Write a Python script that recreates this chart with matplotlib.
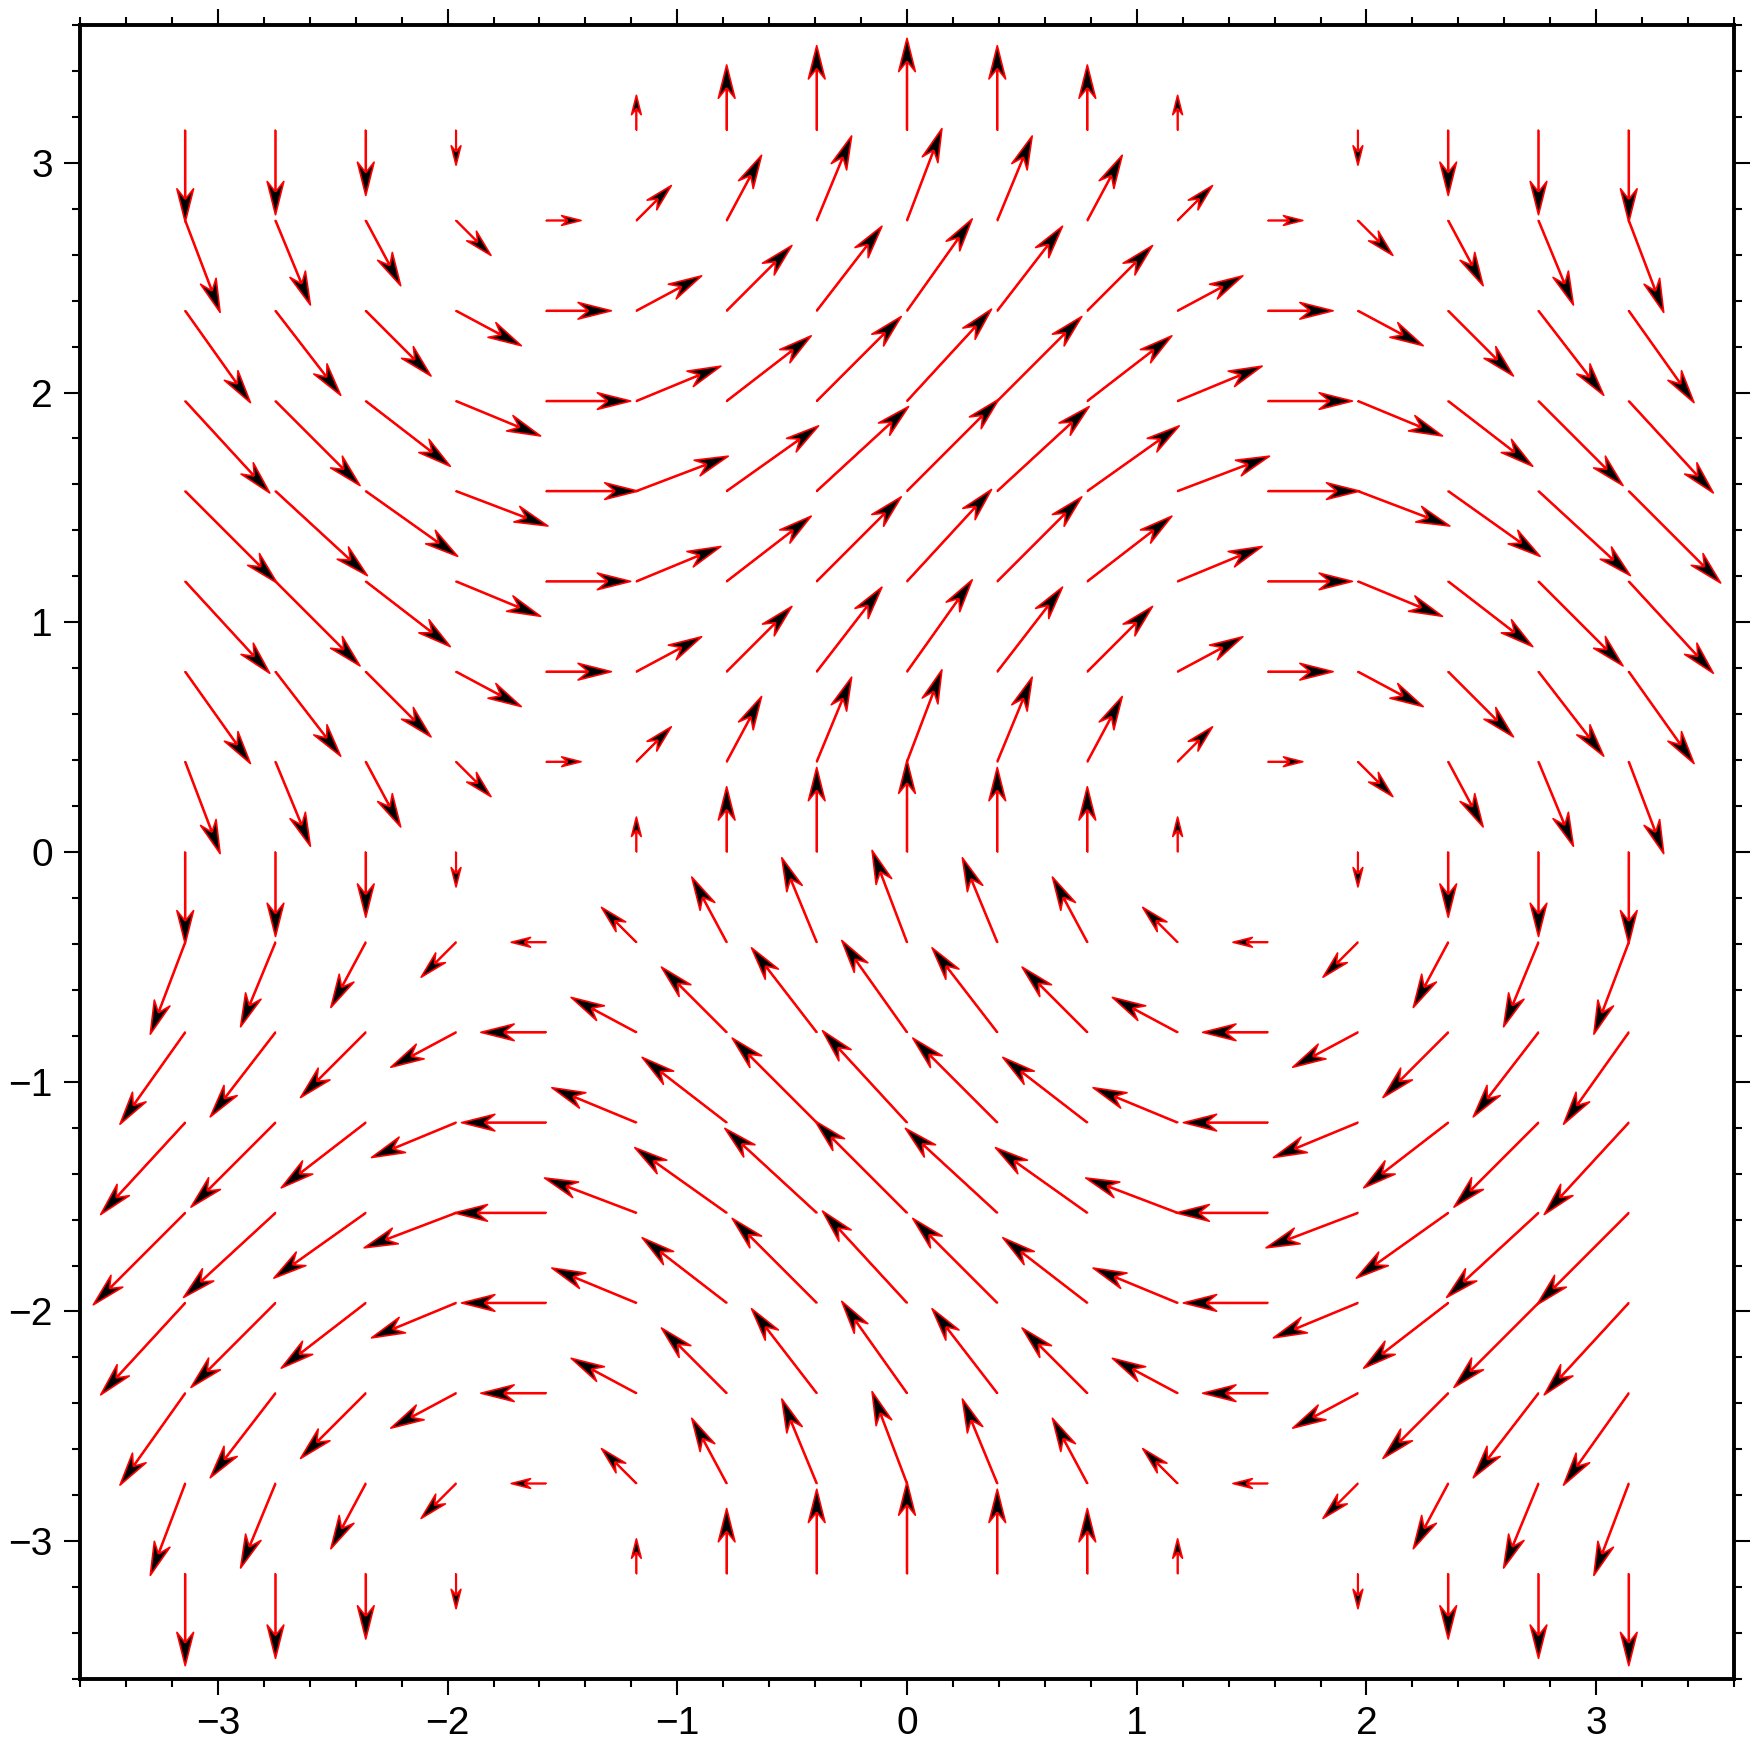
import numpy as np
import matplotlib.pyplot as plt
from matplotlib.ticker import MultipleLocator

plt.rcParams['font.family'] = ['Liberation Sans', 'DejaVu Sans']

# grid nodes (multiples of pi/8) along x and y
grid_x = [-3.142, -2.749, -2.356, -1.963, -1.571, -1.178, -0.785, -0.393, 0.0,
          0.393, 0.785, 1.178, 1.571, 1.963, 2.356, 2.749, 3.142]
grid_y = [-3.142, -2.749, -2.356, -1.963, -1.571, -1.178, -0.785, -0.393, 0.0,
          0.393, 0.785, 1.178, 1.571, 1.963, 2.356, 2.749, 3.142]

# x-component depends on the row (y), y-component on the column (x)
u_by_row = [0, -0.38, -0.71, -0.92, -1, -0.92, -0.71, -0.38, 0,
            0.38, 0.71, 0.92, 1, 0.92, 0.71, 0.38, 0]
v_by_col = [-1, -0.92, -0.71, -0.38, 0, 0.38, 0.71, 0.92, 1,
            0.92, 0.71, 0.38, 0, -0.38, -0.71, -0.92, -1]

X, Y = np.meshgrid(grid_x, grid_y)
U = np.tile(np.array(u_by_row)[:, None], (1, len(grid_x)))
V = np.tile(np.array(v_by_col)[None, :], (len(grid_y), 1))

# drop the null vectors
keep = np.hypot(U, V) > 0
X, Y, U, V = X[keep], Y[keep], U[keep], V[keep]

fig = plt.figure(figsize=(17.6, 17.46), dpi=100)
ax = fig.add_axes([80 / 1760, 67 / 1746, 1654 / 1760, 1654 / 1746])

ax.quiver(X, Y, U, V, angles='xy', scale_units='xy', scale=1 / 0.4,
          units='dots', width=0.9, headwidth=18.5, headlength=37,
          headaxislength=26, minshaft=1.8, minlength=0,
          facecolor='black', edgecolor='red', linewidth=1.2, zorder=3)

ax.set_xlim(-3.6, 3.6)
ax.set_ylim(-3.6, 3.6)

ax.xaxis.set_major_locator(MultipleLocator(1))
ax.xaxis.set_minor_locator(MultipleLocator(0.2))
ax.yaxis.set_major_locator(MultipleLocator(1))
ax.yaxis.set_minor_locator(MultipleLocator(0.2))

ax.tick_params(which='both', direction='out', top=True, right=True,
               labeltop=False, labelright=False, color='black')
ax.tick_params(which='major', length=11.5, width=1.5, labelsize=28, pad=8)
ax.tick_params(which='minor', length=5.8, width=1.5)

for sp in ax.spines.values():
    sp.set_linewidth(2.8)

plt.savefig('out.png', dpi=100)
